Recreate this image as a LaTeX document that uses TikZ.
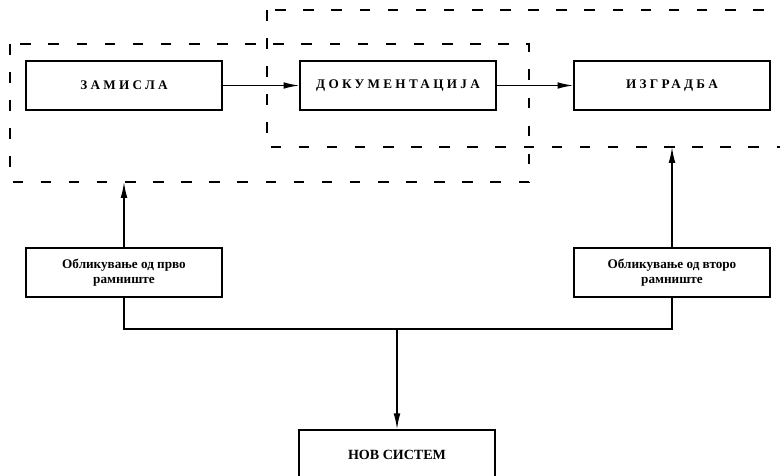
\documentclass[tikz,border=0pt]{standalone}
\usepackage{fontspec}
\setmainfont{Liberation Serif}
\newfontfamily\wide[LetterSpace=25]{Liberation Serif}
\usetikzlibrary{arrows.meta}
\begin{document}
\begin{tikzpicture}[x=0.02cm, y=-0.02cm,
    box/.style={draw, line width=0.8pt, minimum width=3.92cm, minimum height=0.98cm,
                inner sep=1pt, align=center, font=\bfseries\fontsize{7.5}{8.5}\selectfont},
    capbox/.style={box, font=\wide\bfseries\fontsize{7.5}{9}\selectfont},
    zone/.style={line width=0.6pt, dash pattern=on 6pt off 10pt},
    link/.style={line width=0.8pt, -{Latex[length=9pt,width=3.8pt]}}]
    \clip (0,0) rectangle (780,476);

    % ramki so isprekinati linii
    \draw[zone] (10,44) rectangle (529,182);
    \draw[zone] (267,10) rectangle (800,147);
    \coordinate (Z1) at (124,182);
    \coordinate (Z2) at (672,147);

    % gorni blokovi
    \node[capbox] (zamisla) at (124,85.5) {ЗАМИСЛА};
    \node[capbox] (dokum) at (398,85.5) {ДОКУМЕНТАЦИЈА};
    \node[capbox] (izgradba) at (672,85.5) {ИЗГРАДБА};

    \draw[link] (zamisla) -- (dokum);
    \draw[link] (dokum) -- (izgradba);

    % oblikuvanje
    \node[box] (prvo) at (124,272.5) {Обликување од прво\\рамниште};
    \node[box] (vtoro) at (672,272.5) {Обликување од второ\\рамниште};

    \draw[link] (prvo) -- (Z1);
    \draw[link] (vtoro) -- (Z2);

    % nov sistem
    \node[box, font=\bfseries\fontsize{8}{10}\selectfont] (nov) at (397,454.5) {НОВ СИСТЕМ};

    \coordinate (S) at (397,329);
    \draw[line width=0.8pt] (prvo.south) |- (S) -| (vtoro.south);
    \draw[link] (S) -- (nov);
\end{tikzpicture}
\end{document}
